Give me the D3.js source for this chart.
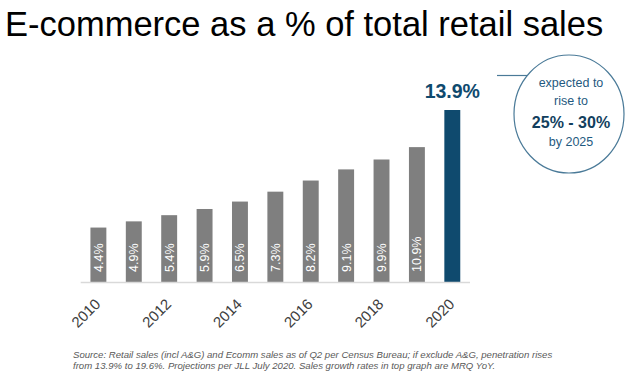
<!DOCTYPE html>
<html>
<head>
<meta charset="utf-8">
<script src="https://cdn.jsdelivr.net/npm/d3@7"></script>
<style>
  html, body { margin: 0; padding: 0; background: #fff; }
  svg { display: block; font-family: "Liberation Sans", Arial, sans-serif; }
</style>
</head>
<body>
<svg width="640" height="377"></svg>
<script>
// Data
const years = [2010, 2011, 2012, 2013, 2014, 2015, 2016, 2017, 2018, 2019, 2020];
const shares = [4.4, 4.9, 5.4, 5.9, 6.5, 7.3, 8.2, 9.1, 9.9, 10.9, 13.9];
const tickYears = [2010, 2012, 2014, 2016, 2018, 2020];
const calloutLines = ["expected to", "rise to", "25% - 30%", "by 2025"];
const sourceLines = [
    "Source:  Retail sales (incl A&G) and Ecomm sales as of Q2 per Census Bureau; if exclude A&G, penetration rises",
    "from 13.9% to 19.6%. Projections per JLL July 2020.  Sales growth rates in top graph are MRQ YoY."
];

const gray = "#7f7f7f";
const navy = "#0f4a6e";

const svg = d3.select("svg");

// Title
svg.append("text")
    .attr("x", 5)
    .attr("y", 36)
    .attr("font-size", 34.5)
    .attr("fill", "#000")
    .text("E-commerce as a % of total retail sales");

// Scales
const x = d3.scaleBand()
    .domain(years)
    .range([80.7, 470])
    .paddingInner(0.55)
    .paddingOuter(0.275);

const y = d3.scaleLinear()
    .domain([0, 13.9])
    .range([282, 110]);

const last = years[years.length - 1];

// Bars
svg.append("g")
    .selectAll("rect")
    .data(years)
    .join("rect")
    .attr("x", d => x(d))
    .attr("y", (d, i) => y(shares[i]))
    .attr("width", x.bandwidth())
    .attr("height", (d, i) => y(0) - y(shares[i]))
    .attr("fill", d => d === last ? navy : gray);

// Baseline
svg.append("line")
    .attr("x1", 80.7)
    .attr("x2", 470)
    .attr("y1", y(0) + 0.5)
    .attr("y2", y(0) + 0.5)
    .attr("stroke", "#d9d9d9")
    .attr("stroke-width", 1.5);

// Labels inside grey bars
svg.append("g")
    .selectAll("text")
    .data(years.slice(0, -1))
    .join("text")
    .attr("transform", d => `translate(${x(d) + x.bandwidth() / 2 + 4.5},${y(0) - 10}) rotate(-90)`)
    .attr("font-size", 12.5)
    .attr("fill", "#fff")
    .text((d, i) => shares[i].toFixed(1) + "%");

// Highlight label on last bar
svg.append("text")
    .attr("x", x(last) + x.bandwidth() / 2)
    .attr("y", 98)
    .attr("text-anchor", "middle")
    .attr("font-size", 19.5)
    .attr("font-weight", "bold")
    .attr("fill", navy)
    .text(shares[shares.length - 1].toFixed(1) + "%");

// Year axis labels
svg.append("g")
    .selectAll("text")
    .data(tickYears)
    .join("text")
    .attr("transform", d => `translate(${x(d) + x.bandwidth() / 2 + 3},305) rotate(-45)`)
    .attr("text-anchor", "end")
    .attr("font-size", 15)
    .attr("fill", "#404040")
    .text(d => d);

// Callout bubble
const cx = 569, cy = 114;
svg.append("line")
    .attr("x1", 497)
    .attr("x2", 527)
    .attr("y1", 75.5)
    .attr("y2", 75.5)
    .attr("stroke", "#4a7a98")
    .attr("stroke-width", 1.2);

svg.append("ellipse")
    .attr("cx", cx)
    .attr("cy", cy)
    .attr("rx", 55)
    .attr("ry", 59)
    .attr("fill", "#fff")
    .attr("stroke", "#4a7a98")
    .attr("stroke-width", 1.2);

const lineY = [87, 105, 128, 146];
svg.append("g")
    .selectAll("text")
    .data(calloutLines)
    .join("text")
    .attr("x", cx + 2)
    .attr("y", (d, i) => lineY[i])
    .attr("text-anchor", "middle")
    .attr("font-size", (d, i) => i === 2 ? 16 : 12.5)
    .attr("font-weight", (d, i) => i === 2 ? "bold" : "normal")
    .attr("fill", (d, i) => i === 2 ? "#123f5e" : "#1f5a80")
    .text(d => d);

// Source note
svg.append("g")
    .selectAll("text")
    .data(sourceLines)
    .join("text")
    .attr("x", 73)
    .attr("y", (d, i) => 358 + i * 10.5)
    .attr("font-size", 9.6)
    .attr("font-style", "italic")
    .attr("fill", "#595959")
    .text(d => d);
</script>
</body>
</html>
